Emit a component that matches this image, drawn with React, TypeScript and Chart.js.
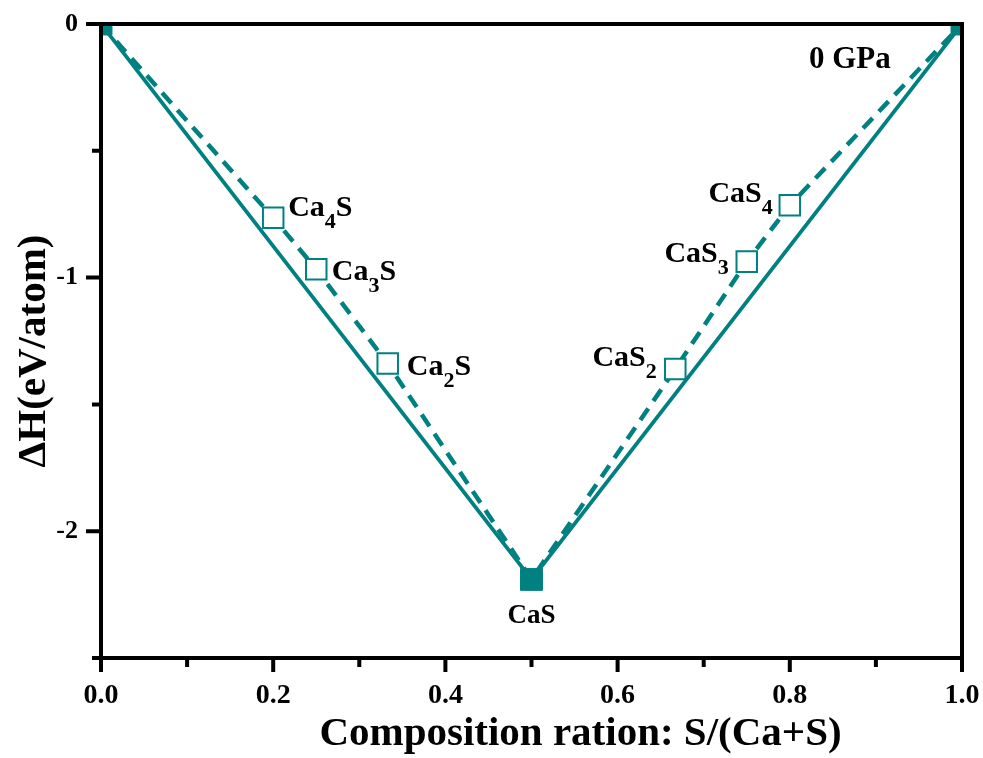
import React, { useEffect, useRef } from 'react';
import { Chart, registerables } from 'chart.js';

Chart.register(...registerables);

// Formation enthalpy of Ca–S phases at 0 GPa
const compositions = [0, 0.2, 0.25, 0.333, 0.5, 0.667, 0.75, 0.8, 1.0];
const enthalpies = [0, -0.764, -0.967, -1.339, -2.19, -1.36, -0.937, -0.715, 0];
const phases = ['Ca', 'Ca4S', 'Ca3S', 'Ca2S', 'CaS', 'CaS2', 'CaS3', 'CaS4', 'S'];
const onHull = [true, false, false, false, true, false, false, false, true];

const xMajorTicks = [0, 0.2, 0.4, 0.6, 0.8, 1.0];
const xMinorTicks = [0.1, 0.3, 0.5, 0.7, 0.9];
const yMajorTicks = [0, -1, -2];
const yMinorTicks = [-0.5, -1.5, -2.5];

const pressureLabel = '0 GPa';
const xTitle = 'Composition ration: S/(Ca+S)';
const yTitle = 'ΔH(eV/atom)';

const TEAL = '#008080';
const FONT = '"Liberation Serif", "Times New Roman", serif';

// where each phase name sits relative to its marker (pixels)
const labelPlacement: Record<string, { align: 'left' | 'right' | 'center'; dx: number; dy: number; size: number }> = {
  Ca4S: { align: 'left', dx: 15, dy: -2, size: 30 },
  Ca3S: { align: 'left', dx: 15.5, dy: 10.5, size: 30 },
  Ca2S: { align: 'left', dx: 19, dy: 11, size: 30 },
  CaS: { align: 'center', dx: 0, dy: 44, size: 27 },
  CaS2: { align: 'right', dx: -18.5, dy: -2.5, size: 30 },
  CaS3: { align: 'right', dx: -18, dy: 0, size: 30 },
  CaS4: { align: 'right', dx: -17, dy: -3.5, size: 30 },
};

function splitFormula(name: string) {
  return name.split(/(\d+)/).filter((s) => s.length > 0).map((s) => ({ text: s, sub: /^\d+$/.test(s) }));
}

const framePlugin = {
  id: 'frame',
  afterDatasetsDraw(chart: any) {
    const { ctx, chartArea: a, scales } = chart;
    const x = scales.x;
    const y = scales.y;
    ctx.save();
    ctx.strokeStyle = '#000';
    ctx.lineWidth = 4;
    ctx.lineJoin = 'miter';
    ctx.lineCap = 'butt';
    ctx.strokeRect(a.left, a.top, a.right - a.left, a.bottom - a.top);
    ctx.beginPath();
    xMajorTicks.forEach((v) => {
      const px = x.getPixelForValue(v);
      ctx.moveTo(px, a.bottom);
      ctx.lineTo(px, a.bottom + 14);
    });
    xMinorTicks.forEach((v) => {
      const px = x.getPixelForValue(v);
      ctx.moveTo(px, a.bottom);
      ctx.lineTo(px, a.bottom + 9);
    });
    yMajorTicks.forEach((v) => {
      const py = y.getPixelForValue(v);
      ctx.moveTo(a.left, py);
      ctx.lineTo(a.left - 15, py);
    });
    yMinorTicks.forEach((v) => {
      const py = y.getPixelForValue(v);
      ctx.moveTo(a.left, py);
      ctx.lineTo(a.left - 9, py);
    });
    ctx.stroke();
    ctx.restore();
  },
};

const labelPlugin = {
  id: 'phaseLabels',
  afterDatasetsDraw(chart: any) {
    const { ctx, scales } = chart;
    const x = scales.x;
    const y = scales.y;
    ctx.save();
    ctx.fillStyle = '#000';
    ctx.textBaseline = 'alphabetic';
    ctx.textAlign = 'left';
    phases.forEach((name, i) => {
      const place = labelPlacement[name];
      if (!place) return;
      const px = x.getPixelForValue(compositions[i]) + place.dx;
      const py = y.getPixelForValue(enthalpies[i]) + place.dy;
      const parts = splitFormula(name);
      const subSize = Math.round(place.size * 0.73);
      const widths = parts.map((p) => {
        ctx.font = `bold ${p.sub ? subSize : place.size}px ${FONT}`;
        return ctx.measureText(p.text).width;
      });
      const total = widths.reduce((s, w) => s + w, 0);
      let cx = place.align === 'left' ? px : place.align === 'right' ? px - total : px - total / 2;
      parts.forEach((p, k) => {
        ctx.font = `bold ${p.sub ? subSize : place.size}px ${FONT}`;
        ctx.fillText(p.text, cx, p.sub ? py + 12 : py);
        cx += widths[k];
      });
    });
    // pressure tag in the upper right
    ctx.font = `bold 31px ${FONT}`;
    ctx.fillText(pressureLabel, 809, 68);
    ctx.restore();
  },
};

const titlePlugin = {
  id: 'axisTitles',
  afterDraw(chart: any) {
    const { ctx, chartArea: a } = chart;
    ctx.save();
    ctx.fillStyle = '#000';
    ctx.font = `bold 41px ${FONT}`;
    ctx.textAlign = 'center';
    ctx.textBaseline = 'alphabetic';
    ctx.fillText(xTitle, a.left + (a.right - a.left) / 2 + 49, 745);
    ctx.translate(45, a.top + (a.bottom - a.top) / 2 + 10);
    ctx.rotate(-Math.PI / 2);
    ctx.fillText(yTitle, 0, 0);
    ctx.restore();
  },
};

export default function App() {
  const canvasRef = useRef<HTMLCanvasElement>(null);

  useEffect(() => {
    const canvas = canvasRef.current;
    if (!canvas) return;
    const points = compositions.map((c, i) => ({ x: c, y: enthalpies[i] }));
    const stablePoints = points.filter((_, i) => onHull[i]);
    const metastablePoints = points.filter((_, i) => !onHull[i]);

    const chart = new Chart(canvas, {
      type: 'line',
      data: {
        datasets: [
          {
            label: 'stable phases',
            data: stablePoints,
            showLine: false,
            pointStyle: 'rect',
            pointRadius: 15.5,
            pointBackgroundColor: TEAL,
            pointBorderColor: TEAL,
            pointBorderWidth: 1,
            clip: 0,
          },
          {
            label: 'metastable phases',
            data: metastablePoints,
            showLine: false,
            pointStyle: 'rect',
            pointRadius: 14.5,
            pointBackgroundColor: '#ffffff',
            pointBorderColor: TEAL,
            pointBorderWidth: 2,
            clip: 0,
          },
          {
            label: 'convex hull',
            data: stablePoints,
            borderColor: TEAL,
            borderWidth: 3.8,
            pointRadius: 0,
            tension: 0,
            clip: 0,
          },
          {
            label: 'all phases',
            data: points,
            borderColor: TEAL,
            borderWidth: 4.5,
            borderDash: [14, 9],
            pointRadius: 0,
            tension: 0,
            clip: 0,
          },
        ],
      },
      options: {
        animation: false,
        responsive: false,
        events: [],
        layout: { padding: { top: 24, right: 21, left: 0, bottom: 0 } },
        plugins: { legend: { display: false }, tooltip: { enabled: false } },
        scales: {
          x: {
            type: 'linear',
            min: 0,
            max: 1,
            afterFit: (s: any) => {
              s.height = 100;
              s.paddingLeft = 0;
              s.paddingRight = 0;
            },
            afterBuildTicks: (s: any) => {
              s.ticks = xMajorTicks.map((v) => ({ value: v }));
            },
            grid: { display: false, drawTicks: false },
            border: { display: false },
            ticks: {
              autoSkip: false,
              maxRotation: 0,
              padding: 21,
              color: '#000',
              font: { family: FONT, size: 28, weight: 'bold' },
              callback: (v: any) => Number(v).toFixed(1),
            },
          },
          y: {
            type: 'linear',
            min: -2.5,
            max: 0,
            afterFit: (s: any) => {
              s.width = 101;
              s.paddingTop = 0;
              s.paddingBottom = 0;
            },
            afterBuildTicks: (s: any) => {
              s.ticks = yMajorTicks.map((v) => ({ value: v }));
            },
            grid: { display: false, drawTicks: false },
            border: { display: false },
            ticks: {
              autoSkip: false,
              padding: 23,
              color: '#000',
              font: { family: FONT, size: 26, weight: 'bold' },
              callback: (v: any) => String(v),
            },
          },
        },
      },
      plugins: [framePlugin, labelPlugin, titlePlugin],
    });

    return () => chart.destroy();
  }, []);

  return (
    <div style={{ position: 'fixed', left: 0, top: 0, width: 983, height: 758, background: '#ffffff' }}>
      <canvas ref={canvasRef} width={983} height={758} style={{ display: 'block' }} />
    </div>
  );
}
